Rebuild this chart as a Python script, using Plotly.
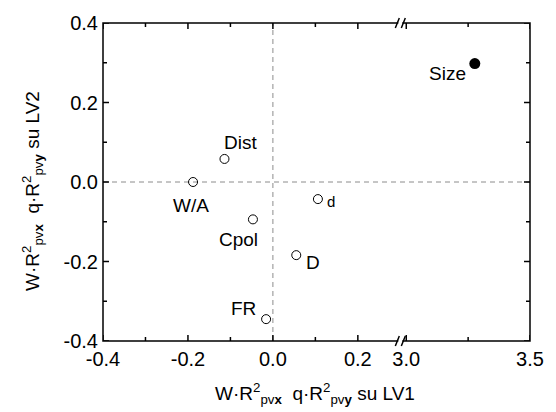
import plotly.graph_objects as go

# Variable loadings on the first two latent variables
labels = ["Dist", "W/A", "Cpol", "d", "D", "FR"]
lv1 = [-0.114, -0.188, -0.047, 0.106, 0.055, -0.016]
lv2 = [0.058, 0.000, -0.094, -0.043, -0.184, -0.345]

# Outlying variable, drawn on the broken (right) x segment
size_label = "Size"
size_lv1 = [3.277]
size_lv2 = [0.298]

# labelled ticks and the unlabelled ticks between them
x_ticks_left = [-0.4, -0.2, 0.0, 0.2]
x_text_left = ["-0.4", "-0.2", "0.0", "0.2"]
x_minor_left = [-0.3, -0.1, 0.1]
x_ticks_right = [3.0, 3.5]
x_text_right = ["3.0", "3.5"]
x_minor_right = [3.25]
y_ticks = [-0.4, -0.2, 0.0, 0.2, 0.4]
y_text = ["-0.4", "-0.2", "0.0", "0.2", "0.4"]
y_minor = [-0.3, -0.1, 0.1, 0.3]

FONT = "Liberation Sans, Arial, sans-serif"
BREAK = 0.6963  # paper-x position of the axis break
MAJOR_LEN, MINOR_LEN = 6, 4

# label placement (pixel offsets from each point) and font sizes
label_style = {
    "Dist": dict(xshift=16, yshift=16, size=19),
    "W/A": dict(xshift=-2, yshift=-23, size=19),
    "Cpol": dict(xshift=-14, yshift=-20, size=19),
    "d": dict(xshift=13, yshift=-2, size=15),
    "D": dict(xshift=17, yshift=-7, size=19),
    "FR": dict(xshift=-23, yshift=11, size=19),
}

fig = go.Figure()

fig.add_trace(go.Scatter(
    x=lv1, y=lv2, mode="markers", xaxis="x", yaxis="y",
    marker=dict(symbol="circle-open", size=9, color="black",
                line=dict(width=1, color="black")),
    hoverinfo="skip", showlegend=False,
))
fig.add_trace(go.Scatter(
    x=size_lv1, y=size_lv2, mode="markers", xaxis="x2", yaxis="y",
    marker=dict(symbol="circle", size=11, color="black"),
    hoverinfo="skip", showlegend=False,
))

annotations = []
for name, xv, yv in zip(labels, lv1, lv2):
    st = label_style[name]
    annotations.append(dict(
        x=xv, y=yv, xref="x", yref="y", text=name, showarrow=False,
        xshift=st["xshift"], yshift=st["yshift"],
        font=dict(family=FONT, size=st["size"], color="black"),
    ))
annotations.append(dict(
    x=size_lv1[0], y=size_lv2[0], xref="x2", yref="y", text=size_label,
    showarrow=False, xshift=-27, yshift=-10,
    font=dict(family=FONT, size=19, color="black"),
))

sub_x = "R<sup>2</sup><sub>pv<b>x</b></sub>"
sub_y = "R<sup>2</sup><sub>pv<b>y</b></sub>"
annotations.append(dict(
    x=0.5, y=0, xref="paper", yref="paper", xshift=-2, yshift=-52,
    text=f"W·{sub_x}\u00a0 q·{sub_y} su LV1", showarrow=False,
    xanchor="center", yanchor="middle",
    font=dict(family=FONT, size=19, color="black"),
))
annotations.append(dict(
    x=0, y=0.5, xref="paper", yref="paper", xshift=-71, yshift=-9,
    text=f"W·{sub_x}\u00a0 q·{sub_y} su LV2", showarrow=False, textangle=-90,
    xanchor="center", yanchor="middle",
    font=dict(family=FONT, size=19, color="black"),
))

FRAME = dict(color="black", width=1.5)
shapes = [
    # zero reference lines
    dict(type="line", xref="paper", yref="y", x0=0, x1=1, y0=0, y1=0,
         line=dict(color="#8c8c8c", width=1, dash="5px,4px"), layer="below"),
    dict(type="line", xref="x", yref="paper", x0=0, x1=0, y0=0, y1=1,
         line=dict(color="#8c8c8c", width=1, dash="5px,4px"), layer="below"),
    # plot frame
    dict(type="rect", xref="paper", yref="paper", x0=0, x1=1, y0=0, y1=1,
         line=FRAME, fillcolor="rgba(0,0,0,0)", layer="above"),
]


def x_tick_marks(axis, values, length):
    """Inward tick marks on the bottom and top frame edges."""
    out = []
    for v in values:
        for base, sign in ((0, 1), (1, -1)):
            out.append(dict(
                type="line", xref=axis, yref="paper", ysizemode="pixel",
                yanchor=base, x0=v, x1=v, y0=0, y1=sign * length,
                line=FRAME, layer="above"))
    return out


def y_tick_marks(values, length):
    """Inward tick marks on the left and right frame edges."""
    out = []
    for v in values:
        for base, sign in ((0, 1), (1, -1)):
            out.append(dict(
                type="line", xref="paper", yref="y", xsizemode="pixel",
                xanchor=base, y0=v, y1=v, x0=0, x1=sign * length,
                line=FRAME, layer="above"))
    return out


shapes += x_tick_marks("x", x_ticks_left, MAJOR_LEN)
shapes += x_tick_marks("x", x_minor_left, MINOR_LEN)
shapes += x_tick_marks("x2", x_ticks_right, MAJOR_LEN)
shapes += x_tick_marks("x2", x_minor_right, MINOR_LEN)
shapes += y_tick_marks(y_ticks, MAJOR_LEN)
shapes += y_tick_marks(y_minor, MINOR_LEN)

# break marks on the top and bottom frame edges
for yp in (0, 1):
    shapes.append(dict(
        type="rect", xref="paper", yref="paper", xsizemode="pixel",
        ysizemode="pixel", xanchor=BREAK, yanchor=yp,
        x0=-2, x1=2, y0=-2, y1=2, fillcolor="white",
        line=dict(width=0), layer="above"))
    for dx in (-5, 1):
        shapes.append(dict(
            type="line", xref="paper", yref="paper", xsizemode="pixel",
            ysizemode="pixel", xanchor=BREAK, yanchor=yp,
            x0=dx, x1=dx + 4, y0=-5, y1=5,
            line=FRAME, layer="above"))

axis_common = dict(
    showline=False, ticks="", showgrid=False, zeroline=False,
    tickmode="array", ticklabelstandoff=4,
    tickfont=dict(family=FONT, size=20, color="black"),
)

fig.update_layout(
    width=556, height=412,
    margin=dict(l=103, r=15, t=20, b=71),
    paper_bgcolor="white", plot_bgcolor="white",
    xaxis=dict(domain=[0, BREAK], range=[-0.4, 0.3], anchor="y",
               tickvals=x_ticks_left, ticktext=x_text_left, **axis_common),
    xaxis2=dict(domain=[BREAK, 1], range=[2.976, 3.5], anchor="y",
                tickvals=x_ticks_right, ticktext=x_text_right, **axis_common),
    yaxis=dict(range=[-0.4, 0.4], anchor="x", tickvals=y_ticks,
               ticktext=y_text, **axis_common),
    annotations=annotations,
    shapes=shapes,
)

fig.write_html("out.html")
